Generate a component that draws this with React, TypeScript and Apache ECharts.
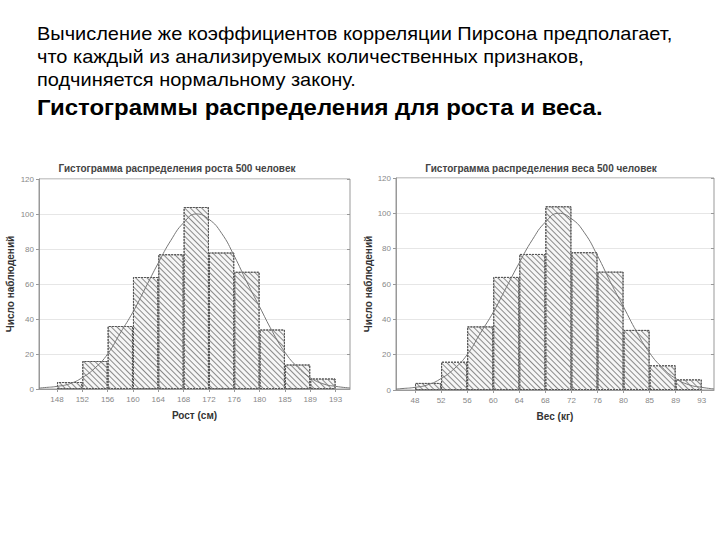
import React, { useEffect, useRef } from "react";
import * as echarts from "echarts";

const heightBins = [4, 16, 36, 64, 77, 104, 78, 67, 34, 14, 6];
const weightBins = [4, 16, 36, 64, 77, 104, 78, 67, 34, 14, 6];
const heightTicks = ["148", "152", "156", "160", "164", "168", "172", "176", "180", "185", "189", "193"];
const weightTicks = ["48", "52", "56", "60", "64", "68", "72", "76", "80", "85", "89", "93"];
// fitted normal curve: [bin position, count]
const heightCurve = [
  [-0.71, 0.5], [-0.5, 0.8], [0, 1.5], [0.5, 3], [1, 6.5], [1.5, 12], [2, 20], [2.5, 32], [3, 44],
  [3.5, 58], [4, 72], [4.5, 85], [5, 95], [5.5, 100], [6, 97], [6.5, 89], [7, 76], [7.5, 61],
  [8, 47], [8.5, 33], [9, 21], [9.5, 12.5], [10, 6.5], [10.5, 3], [11, 1.5], [11.57, 0.6],
];
const weightCurve = [
  [-0.73, 0.5], [-0.5, 0.8], [0, 1.5], [0.5, 3], [1, 6.5], [1.5, 12], [2, 20], [2.5, 32], [3, 44],
  [3.5, 58], [4, 72], [4.5, 85], [5, 95], [5.5, 100], [6, 97], [6.5, 89], [7, 76], [7.5, 61],
  [8, 47], [8.5, 33], [9, 21], [9.5, 12.5], [10, 6.5], [10.5, 3], [11, 1.5], [11.47, 0.6],
];

const introLines = [
  "Вычисление же коэффициентов корреляции Пирсона предполагает,",
  "что каждый из анализируемых количественных признаков,",
  "подчиняется нормальному закону.",
];
const heading = "Гистограммы распределения для роста и веса.";
const titles = ["Гистограмма распределения роста 500 человек", "Гистограмма распределения веса 500 человек"];
const xNames = ["Рост (см)", "Вес (кг)"];
const yName = "Число наблюдений";

export default function App() {
  const ref = useRef<HTMLDivElement>(null);
  useEffect(() => {
    if (!ref.current) return;
    const chart = echarts.init(ref.current, null, { renderer: "svg" });
    const edges = heightTicks.map((_, i) => i);
    const grids = [
      { left: 39, top: 179, width: 311, height: 210, show: true, borderColor: "#999", borderWidth: 1 },
      { left: 396, top: 178, width: 318, height: 212, show: true, borderColor: "#999", borderWidth: 1 },
    ];
    const ranges = [
      [-0.71, 11.57],
      [-0.73, 11.47],
    ];
    const tickSets = [heightTicks, weightTicks];
    const nameGaps = [24, 20];
    const xAxis = [0, 1].map((g) => ({
      type: "value",
      gridIndex: g,
      min: ranges[g][0],
      max: ranges[g][1],
      name: xNames[g],
      nameLocation: "middle",
      nameGap: 21,
      nameTextStyle: { fontFamily: "Liberation Sans", fontWeight: "bold", fontSize: 10, color: "#333" },
      axisLine: { show: true, onZero: false, lineStyle: { color: "#999" } },
      axisTick: { show: true, length: 3, customValues: edges, lineStyle: { color: "#999" } },
      axisLabel: {
        customValues: edges,
        formatter: (v: number) => tickSets[g][Math.round(v)] ?? "",
        color: "#888",
        fontSize: 8,
        fontFamily: "Liberation Sans",
        margin: 6,
      },
      splitLine: { show: false },
    }));
    const yAxis: any[] = [];
    [0, 1].forEach((g) => {
      yAxis.push({
        type: "value",
        gridIndex: g,
        min: 0,
        max: 120,
        interval: 20,
        name: yName,
        nameLocation: "middle",
        nameGap: nameGaps[g],
        nameTextStyle: { fontFamily: "Liberation Sans", fontWeight: "bold", fontSize: 10, color: "#333" },
        axisLine: { show: true, onZero: false, lineStyle: { color: "#999" } },
        axisTick: { show: true, length: 3, lineStyle: { color: "#999" } },
        axisLabel: { color: "#888", fontSize: 8, fontFamily: "Liberation Sans", margin: 5 },
        splitLine: { show: true, lineStyle: { color: "#e6e6e6" } },
      });
      yAxis.push({
        type: "value",
        gridIndex: g,
        position: "right",
        min: 0,
        max: 120,
        interval: 20,
        axisLine: { show: false, onZero: false },
        axisTick: { show: true, inside: true, length: 3, lineStyle: { color: "#999" } },
        axisLabel: { show: false },
        splitLine: { show: false },
      });
    });
    const binSets = [heightBins, weightBins];
    const curves = [heightCurve, weightCurve];
    const series: any[] = [];
    [0, 1].forEach((g) => {
      series.push({
        type: "bar",
        xAxisIndex: g,
        yAxisIndex: g * 2,
        barWidth: "100%",
        data: binSets[g].map((v, i) => [i + 0.5, v]),
        itemStyle: {
          color: "#f6f6f6",
          borderColor: "#555",
          borderWidth: 1,
          borderType: [2, 1],
          decal: {
            symbol: "rect",
            symbolSize: 1,
            color: "#8a8a8a",
            dashArrayX: [1, 0],
            dashArrayY: [1, 2.2],
            rotation: Math.PI / 4,
          },
        },
        silent: true,
      });
      series.push({
        type: "line",
        xAxisIndex: g,
        yAxisIndex: g * 2,
        data: curves[g],
        smooth: true,
        showSymbol: false,
        symbol: "none",
        lineStyle: { color: "#777", width: 1 },
        z: 5,
        silent: true,
      });
    });
    const graphic: any[] = [];
    const baseMid = [33.7, 57, 79.7];
    introLines.forEach((t, i) => {
      graphic.push({
        type: "text",
        x: 37,
        y: baseMid[i],
        scaleX: 1.11,
        style: { text: t, fill: "#000", fontSize: 18, fontFamily: "Liberation Sans", verticalAlign: "middle", align: "left" },
      });
    });
    graphic.push({
      type: "text",
      x: 37,
      y: 107,
      scaleX: 1.09,
      style: { text: heading, fill: "#000", fontSize: 22, fontWeight: "bold", fontFamily: "Liberation Sans", verticalAlign: "middle", align: "left" },
    });
    const titleX = [177, 541];
    titles.forEach((t, i) => {
      graphic.push({
        type: "text",
        x: titleX[i],
        y: 168,
        style: { text: t, fill: "#444", fontSize: 10, fontWeight: "bold", fontFamily: "Liberation Sans", verticalAlign: "middle", align: "center" },
      });
    });
    chart.setOption({
      animation: false,
      backgroundColor: "#fff",
      grid: grids,
      xAxis,
      yAxis,
      series,
      graphic,
    });
    return () => chart.dispose();
  }, []);
  return <div ref={ref} style={{ position: "fixed", left: 0, top: 0, width: 720, height: 540 }} />;
}
